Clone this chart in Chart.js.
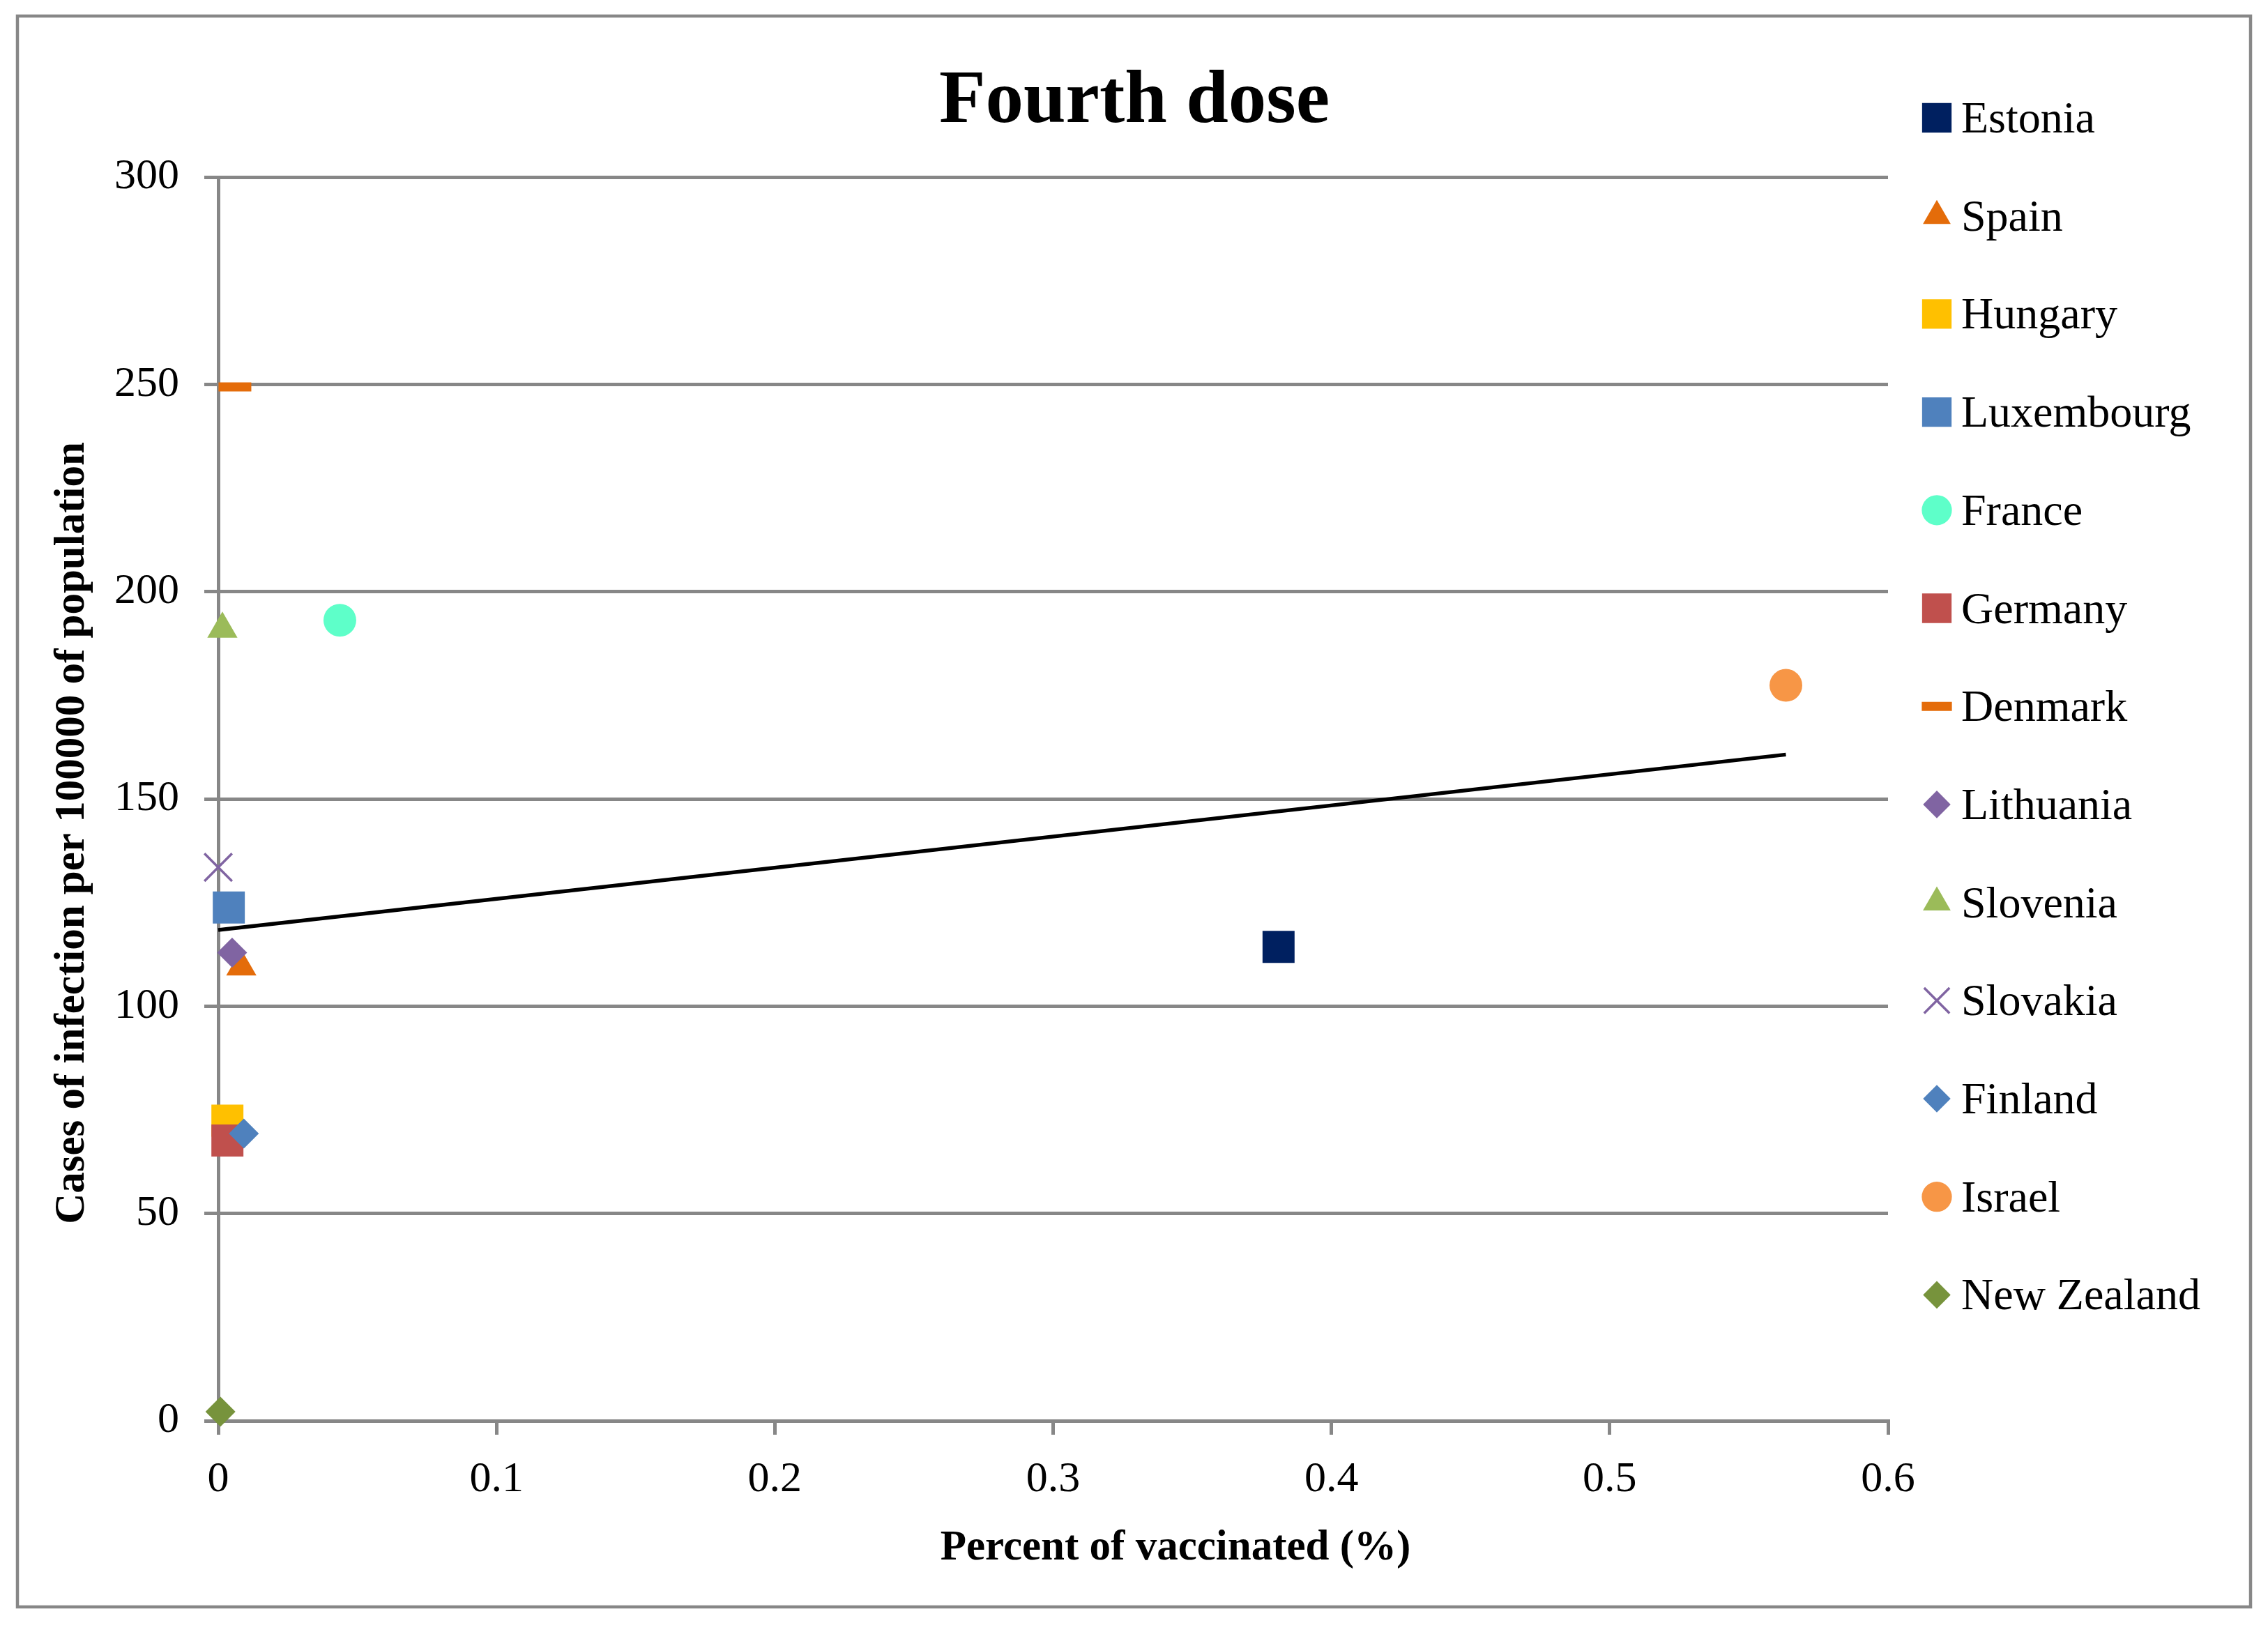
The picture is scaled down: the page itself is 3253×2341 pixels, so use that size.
<!DOCTYPE html>
<html>
<head>
<meta charset="utf-8">
<title>Fourth dose</title>
<script src="https://cdn.jsdelivr.net/npm/chart.js@4.4.1/dist/chart.umd.min.js"></script>
<style>
  html, body { margin: 0; padding: 0; background: #fff; }
  canvas { display: block; }
</style>
</head>
<body>
<canvas id="doseChart" width="3253" height="2341"></canvas>
<script>
// values
const countries = ['Estonia', 'Spain', 'Hungary', 'Luxembourg', 'France', 'Germany', 'Denmark',
                   'Lithuania', 'Slovenia', 'Slovakia', 'Finland', 'Israel', 'New Zealand'];
const vaccinated = [0.381, 0.0083, 0.0033, 0.0038, 0.0437, 0.0033, 0.006,
                    0.005, 0.0015, 0, 0.0092, 0.5633, 0.0008];
const cases = [114.3, 109.5, 72.4, 123.8, 193.1, 67.6, 249.4,
               112.9, 191, 133.5, 69.3, 177.4, 2.2];
const xTicks = [0, 0.1, 0.2, 0.3, 0.4, 0.5, 0.6];
const yTicks = [0, 50, 100, 150, 200, 250, 300];

// marker look per country (Excel defaults)
const markerStyles = ['rect', 'triangle', 'rect', 'rect', 'circle', 'rect', 'line',
                      'rectRot', 'triangle', 'crossRot', 'rectRot', 'circle', 'rectRot'];
const markerColors = ['#002060', '#E46C0A', '#FFC000', '#4F81BD', '#5EFFC9', '#C0504D', '#E46C0A',
                      '#8064A2', '#9BBB59', '#8064A2', '#4F81BD', '#F79646', '#77933C'];
const markerRadius = { rect: 32.5, triangle: 25, circle: 23.5, rectRot: 21.5, crossRot: 28, line: 23.5 };
const markerStroke = { rect: 0, triangle: 0, circle: 0, rectRot: 0, crossRot: 3.5, line: 13 };

const FONT = "'Liberation Serif', 'Times New Roman', serif";
const GRID = '#878787';

// least squares line, like Excel's linear trendline
function linearFit(xs, ys) {
    const n = xs.length;
    const mx = xs.reduce((a, b) => a + b, 0) / n;
    const my = ys.reduce((a, b) => a + b, 0) / n;
    let sxy = 0, sxx = 0;
    for (let i = 0; i < n; i++) {
        sxy += (xs[i] - mx) * (ys[i] - my);
        sxx += (xs[i] - mx) * (xs[i] - mx);
    }
    const slope = sxy / sxx;
    return { slope: slope, intercept: my - slope * mx };
}

const fit = linearFit(vaccinated, cases);
const xMin = Math.min(...vaccinated);
const xMax = Math.max(...vaccinated);
const trendPoints = [
    { x: xMin, y: fit.intercept + fit.slope * xMin },
    { x: xMax, y: fit.intercept + fit.slope * xMax }
];

const datasets = countries.map(function (name, i) {
    const style = markerStyles[i];
    return {
        label: name,
        data: [{ x: vaccinated[i], y: cases[i] }],
        pointStyle: style,
        pointRadius: markerRadius[style],
        pointBackgroundColor: markerColors[i],
        pointBorderColor: markerColors[i],
        pointBorderWidth: markerStroke[style],
        clip: false,
        order: countries.length - i + 1
    };
});

datasets.push({
    label: 'Trend',
    data: trendPoints,
    showLine: true,
    borderColor: '#000',
    borderWidth: 5.5,
    pointRadius: 0,
    clip: false,
    order: 0
});

// title, axis titles, legend and outer frame
const decorPlugin = {
    id: 'decor',
    beforeDraw: function (chart) {
        const ctx = chart.ctx;
        ctx.save();
        ctx.fillStyle = '#fff';
        ctx.fillRect(0, 0, chart.width, chart.height);
        ctx.strokeStyle = GRID;
        ctx.lineWidth = 4.5;
        ctx.strokeRect(25, 23, 3203, 2282);
        ctx.restore();
    },
    afterDraw: function (chart) {
        const ctx = chart.ctx;
        ctx.save();
        ctx.fillStyle = '#000';
        ctx.textBaseline = 'alphabetic';

        ctx.textAlign = 'center';
        ctx.font = 'bold 109px ' + FONT;
        ctx.fillText('Fourth dose', 1627, 175);

        ctx.font = 'bold 61px ' + FONT;
        ctx.fillText('Percent of vaccinated (%)', 1686, 2237);

        ctx.save();
        ctx.translate(120, 1195);
        ctx.rotate(-Math.PI / 2);
        ctx.fillText('Cases of infection per 100000 of population', 0, 0);
        ctx.restore();

        // legend
        const legendX = 2778, legendTop = 169, legendStep = 140.7;
        ctx.textAlign = 'left';
        ctx.font = '64px ' + FONT;
        countries.forEach(function (name, i) {
            const style = markerStyles[i];
            const cy = legendTop + i * legendStep;
            ctx.save();
            ctx.fillStyle = markerColors[i];
            ctx.strokeStyle = markerColors[i];
            ctx.lineWidth = markerStroke[style];
            Chart.helpers.drawPoint(ctx, {
                pointStyle: style,
                radius: markerRadius[style] * 0.92,
                rotation: 0,
                borderWidth: markerStroke[style]
            }, legendX, cy);
            ctx.restore();
            ctx.fillText(name, 2813, cy + 21);
        });
        ctx.restore();
    }
};

const ctx = document.getElementById('doseChart').getContext('2d');
const doseChart = new Chart(ctx, {
    type: 'scatter',
    data: { datasets: datasets },
    plugins: [decorPlugin],
    options: {
        responsive: false,
        devicePixelRatio: 1,
        animation: false,
        events: [],
        layout: { padding: { left: 0, right: 545, top: 254, bottom: 0 } },
        plugins: {
            legend: { display: false },
            title: { display: false },
            tooltip: { enabled: false }
        },
        scales: {
            x: {
                type: 'linear',
                min: 0,
                max: 0.6,
                afterBuildTicks: function (scale) {
                    scale.ticks = xTicks.map(v => ({ value: v }));
                },
                afterFit: function (scale) { scale.height = 303; },
                grid: { drawOnChartArea: false, drawTicks: true, tickLength: 20, color: GRID, lineWidth: 5 },
                border: { display: true, color: GRID, width: 5 },
                ticks: {
                    color: '#000',
                    font: { family: FONT, size: 62, lineHeight: 1.2 },
                    padding: 28,
                    maxRotation: 0,
                    autoSkip: false,
                    callback: v => String(v)
                }
            },
            y: {
                type: 'linear',
                min: 0,
                max: 300,
                afterBuildTicks: function (scale) {
                    scale.ticks = yTicks.map(v => ({ value: v }));
                },
                afterFit: function (scale) { scale.width = 313; },
                grid: { drawOnChartArea: true, drawTicks: true, tickLength: 20, color: GRID, lineWidth: 5 },
                border: { display: true, color: GRID, width: 5 },
                ticks: {
                    color: '#000',
                    font: { family: FONT, size: 62, lineHeight: 1.2 },
                    padding: 36,
                    autoSkip: false,
                    callback: v => String(v)
                }
            }
        }
    }
});
</script>
</body>
</html>
